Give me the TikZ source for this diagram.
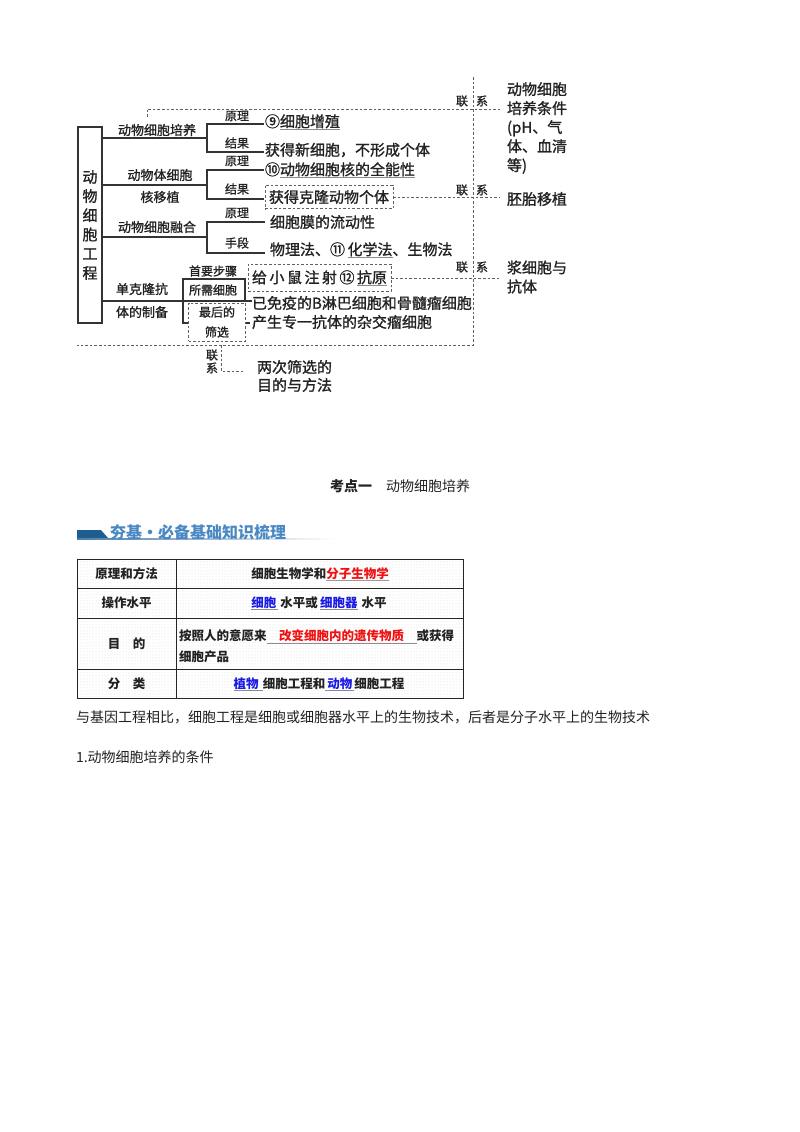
\documentclass[tikz,border=0pt]{standalone}
\usepackage{fontspec}
\setmainfont{Noto Sans CJK SC}
\newfontfamily\dgf[FakeBold=1.2]{Noto Sans CJK SC}
\usetikzlibrary{patterns}
\definecolor{ink}{HTML}{222222}
\definecolor{lnk}{HTML}{333333}
\definecolor{dsh}{HTML}{606060}
\definecolor{bblue}{HTML}{1F5C8F}
\definecolor{tblue}{HTML}{4A88C4}
\definecolor{kblue}{HTML}{1A1AE6}
\definecolor{kred}{HTML}{F01010}
\newlength\ulw
\newcommand\gul[2][black!45]{\settowidth\ulw{#2}\rlap{\textcolor{#1}{\rule[-2.6pt]{\ulw}{0.6pt}}}#2}
\begin{document}
\begin{tikzpicture}[x=1pt,y=-1pt,
  every node/.style={inner sep=0pt, outer sep=0pt, text=ink},
  big/.style={font=\dgf\fontsize{15}{15}\selectfont},
  mid/.style={font=\dgf\fontsize{13}{13}\selectfont},
  sml/.style={font=\dgf\fontsize{12}{12}\selectfont},
  tb/.style={font=\fontsize{12.5}{12.5}\selectfont\bfseries},
  lft/.style={anchor=west},
  tree/.style={draw=lnk, line width=1.1pt},
  dl/.style={draw=dsh, line width=0.9pt, dash pattern=on 2.6pt off 2pt},
  grid/.style={draw=black!85, line width=1pt}]
\useasboundingbox (0,0) rectangle (800,1132);
\fill[white] (0,0) rectangle (800,1132);

% ---------- concept map ----------
\node[draw=lnk, line width=1.1pt, minimum width=24pt, minimum height=196pt, align=center,
      font=\dgf\fontsize{15}{19.2}\selectfont] (main) at (90,225) {动\\物\\细\\胞\\工\\程};

\node[mid] (L1) at (157,130) {动物细胞培养};
\node[mid] (L2a) at (160,175) {动物体细胞};
\node[mid] (L2b) at (160,197) {核移植};
\node[mid] (L3) at (157,227) {动物细胞融合};
\node[mid] (L4a) at (142,289) {单克隆抗};
\node[mid] (L4b) at (142,312) {体的制备};

\node[sml] (P1) at (237,116) {原理};
\node[sml] (R1) at (237,143) {结果};
\node[sml] (P2) at (237,161) {原理};
\node[sml] (R2) at (237,189) {结果};
\node[sml] (P3) at (237,213) {原理};
\node[sml] (M3) at (237,243) {手段};

% branch 1
\coordinate (f1) at (207,138);
\coordinate (v1t) at (207,124); \coordinate (v1b) at (207,152);
\coordinate (e1t) at (264,124); \coordinate (e1b) at (264,152);
\draw[tree] (main.east |- f1) -- (f1);
\draw[tree] (e1t) -- (v1t) -- (v1b) -- (e1b);
% branch 2
\coordinate (f2) at (207,185);
\coordinate (v2t) at (207,170); \coordinate (v2b) at (207,199);
\coordinate (e2t) at (264,170); \coordinate (e2b) at (264,199);
\draw[tree] (main.east |- f2) -- (f2);
\draw[tree] (e2t) -- (v2t) -- (v2b) -- (e2b);
% branch 3
\coordinate (f3) at (207,237);
\coordinate (v3t) at (207,222); \coordinate (v3b) at (207,253);
\coordinate (e3t) at (265,222); \coordinate (e3b) at (265,253);
\draw[tree] (main.east |- f3) -- (f3);
\draw[tree] (e3t) -- (v3t) -- (v3b) -- (e3b);
% branch 4
\coordinate (f4) at (252,301);
\coordinate (q0) at (183,279); \coordinate (q1) at (245,279);
\coordinate (q2) at (183,323); \coordinate (q3) at (250,323);
\coordinate (q5) at (245,301);
\draw[tree] (main.east |- f4) -- (f4);
\draw[tree] (q5) -- (q1) -- (q0) -- (q2) -- (q3);

\node[sml] (S1) at (213,271) {首要步骤};
\node[sml] (S2) at (213,290) {所需细胞};
\node[dl, fill=white, minimum width=57pt, minimum height=38pt, align=center,
      font=\dgf\fontsize{12}{20}\selectfont] (S3) at (217,322) {最后的\\筛选};

% leaves
\node[big, lft] (T1) at (265,122) {⑨\gul{细胞增殖}};
\node[big, lft] (T2) at (265,150) {获得新细胞，不形成个体};
\node[big, lft] (T3) at (265,170) {⑩\gul{动物细胞核的全能性}};
\node[big, lft, dl, inner xsep=4pt, inner ysep=5pt] (T4) at (265,197) {获得克隆动物个体};
\node[big, lft] (T5) at (270,222) {细胞膜的流动性};
\node[big, lft] (T6) at (270,250) {物理法、⑪\,\gul{化学法}、生物法};
\node[big, lft, dl, inner xsep=4pt, inner ysep=6pt] (T7) at (248,278) {给\,小\,鼠\,注\,射\,⑫\,\gul{抗原}};
\node[big, lft] (T8) at (252,303) {已免疫的B淋巴细胞和骨髓瘤细胞};
\node[big, lft] (T9) at (252,322) {产生专一抗体的杂交瘤细胞};

% dashed links
\coordinate (dt0) at (147,117); \coordinate (dt1) at (147,109); \coordinate (dtr) at (500,109);
\draw[dl] (dt0) -- (dt1) -- (dtr);
\coordinate (dv0) at (473,77); \coordinate (dv1) at (473,345); \coordinate (db0) at (77,345);
\draw[dl] (dv0) -- (dv1) -- (db0);
\coordinate (r2) at (500,197); \coordinate (r3) at (500,278);
\draw[dl] (T4.east) -- (r2);
\draw[dl] (T7.east) -- (r3);

\node[sml] (C1a) at (462,101) {联}; \node[sml] (C1b) at (482,101) {系};
\node[sml] (C2a) at (462,190) {联}; \node[sml] (C2b) at (482,190) {系};
\node[sml] (C3a) at (462,267) {联}; \node[sml] (C3b) at (482,267) {系};

\node[lft, align=left, font=\dgf\fontsize{15}{19}\selectfont] (X1) at (507,128) {动物细胞\\培养条件\\(pH、气\\体、血清\\等)};
\node[big, lft] (X2) at (507,199) {胚胎移植};
\node[lft, align=left, font=\dgf\fontsize{15}{19}\selectfont] (X3) at (507,277) {浆细胞与\\抗体};

\node[sml] (C4a) at (212,355) {联};
\node[sml] (C4b) at (212,368) {系};
\coordinate (dl0) at (221,345); \coordinate (dl1) at (221,371); \coordinate (dl2) at (243,371);
\draw[dl] (dl0) -- (dl1) -- (dl2);
\node[lft, align=left, font=\dgf\fontsize{15}{18}\selectfont] (X4) at (257,376) {两次筛选的\\目的与方法};

% ---------- heading ----------
\node[lft, font=\fontsize{14}{14}\selectfont] (hd) at (330,486) {\textbf{考点一}\quad 动物细胞培养};

% ---------- banner ----------
\fill[bblue] (77,530) -- (101,530) -- (108,538) -- (77,538) -- cycle;
\shade[left color=bblue!80, right color=white] (77,538.3) rectangle (335,539.8);
\node[lft, font=\fontsize{16}{16}\selectfont\bfseries, text=tblue] (ban) at (110,532) {夯基·必备基础知识梳理};

% ---------- table ----------
\fill[pattern=dots, pattern color=black!14] (77,559) rectangle (463,698);
\draw[grid] (77,559) rectangle (463,698);
\draw[grid] (77,588) -- (463,588);
\draw[grid] (77,618) -- (463,618);
\draw[grid] (77,669) -- (463,669);
\draw[grid] (176,559) -- (176,698);

\node[tb] (c11) at (126.5,574) {原理和方法};
\node[tb] (c21) at (126.5,603) {操作水平};
\node[tb] (c31) at (126.5,643.5) {目　的};
\node[tb] (c41) at (126.5,684) {分　类};

\node[tb] (c12) at (320,574) {细胞生物学和\textcolor{kred}{\gul[black!40]{分子生物学}}};
\node[tb] (c22) at (319,603) {\gul{\textcolor{kblue}{细胞}\,}\,水平或\,\gul{\textcolor{kblue}{细胞器}}\,\,水平};
\node[tb, lft, align=left, font=\fontsize{12.5}{21}\selectfont\bfseries] (c32) at (179,646.5)
  {按照人的意愿来\gul{\quad\textcolor{kred}{改变细胞内的遗传物质}\quad}或获得\\细胞产品};
\node[tb] (c42) at (319,684) {\gul{\textcolor{kblue}{植物}\,\,}细胞工程和\gul{\,\textcolor{kblue}{动物}\,}细胞工程};

% ---------- text ----------
\node[lft, font=\fontsize{14}{14}\selectfont] (p1) at (76,717) {与基因工程相比，细胞工程是细胞或细胞器水平上的生物技术，后者是分子水平上的生物技术};
\node[lft, font=\fontsize{14}{14}\selectfont] (p2) at (76,757) {1.动物细胞培养的条件};
\end{tikzpicture}
\end{document}
